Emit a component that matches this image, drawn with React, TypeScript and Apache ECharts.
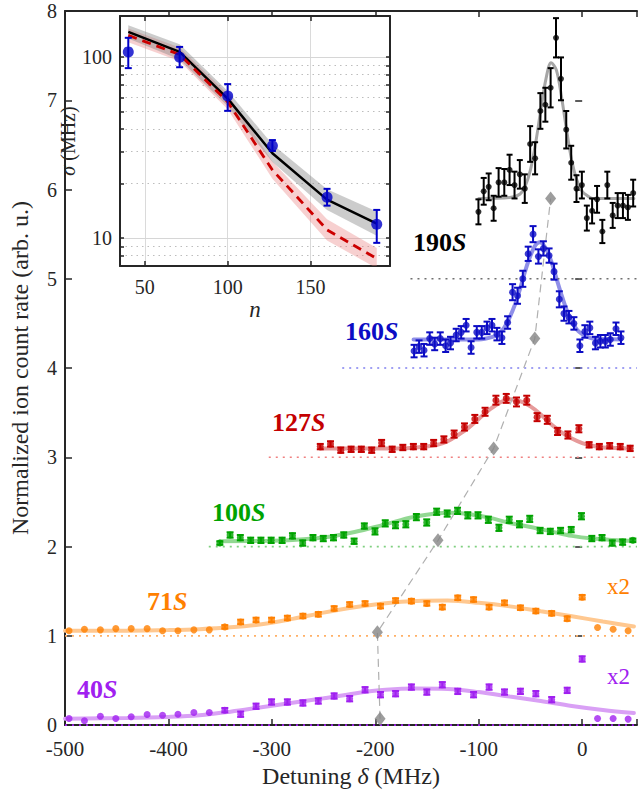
import React, { useEffect, useRef } from "react";
import * as echarts from "echarts";

const FONT = '"Liberation Serif", "Times New Roman", serif';

// ---------------- main panel data (detuning in MHz, normalized rate) ----------------
const x190 = [-100.3,-95.2,-90.4,-85.6,-80.8,-75.3,-70.2,-65.4,-60.3,-55.5,-50.3,-45.5,-40.4,-35.6,-30.5,-25.3,-20.5,-15.4,-10.6,-5.5,-0.3,4.5,9.6,14.4,19.5,24.3,29.5,34.3,39.4,44.2,49.3];
const y190 = [5.75,5.98,6.03,5.79,6.08,6.08,6.22,6.05,6.17,6.01,6.51,6.35,6.88,6.95,7.14,7.70,7.24,6.67,6.30,6.01,6.05,5.68,5.76,5.89,5.53,6.05,5.71,5.82,5.82,5.80,5.96];
const e190 = [0.14,0.15,0.15,0.14,0.16,0.15,0.17,0.15,0.16,0.16,0.2,0.18,0.2,0.19,0.22,0.22,0.24,0.21,0.19,0.15,0.15,0.14,0.14,0.15,0.13,0.15,0.14,0.14,0.14,0.14,0.15];

const x160 = [-162.5,-157.7,-152.9,-147.4,-142.6,-137.2,-132,-127.3,-121.8,-117,-112.2,-107.4,-101.9,-97.1,-92,-87.2,-82.4,-77.6,-72.1,-67.3,-62.5,-57.4,-52.2,-47.5,-42.3,-37.5,-32,-27.2,-22.1,-17.6,-12.8,-8,-2.2,2.6,7.4,12.8,17.6,22.4,27.2,32.7,37.5];
const y160 = [4.19,4.24,4.20,4.33,4.27,4.33,4.25,4.28,4.37,4.40,4.48,4.23,4.40,4.40,4.45,4.48,4.38,4.34,4.51,4.85,4.81,5.00,5.28,5.50,5.25,5.34,5.26,5.08,4.77,4.61,4.57,4.50,4.25,4.41,4.45,4.28,4.30,4.30,4.32,4.44,4.34];
const e160 = [0.07,0.07,0.07,0.07,0.07,0.07,0.07,0.07,0.07,0.07,0.07,0.07,0.07,0.07,0.07,0.07,0.07,0.07,0.07,0.09,0.09,0.09,0.08,0.09,0.08,0.08,0.08,0.09,0.09,0.08,0.07,0.07,0.07,0.07,0.07,0.07,0.07,0.07,0.07,0.07,0.07];

const x127 = [-253.2,-243.3,-233.4,-223.4,-213.5,-203.5,-193.9,-183.7,-173.4,-163.2,-153.2,-143.6,-133.7,-123.8,-113.8,-103.8,-93.9,-83.4,-73.4,-63.5,-53.6,-43.6,-33.7,-23.8,-13.8,-3.2,6.7,16.6,26.6,36.8,46.4];
const y127 = [3.12,3.15,3.08,3.09,3.09,3.08,3.16,3.09,3.11,3.12,3.12,3.16,3.20,3.26,3.34,3.43,3.51,3.64,3.66,3.62,3.64,3.45,3.42,3.29,3.25,3.32,3.14,3.12,3.13,3.12,3.10];
const e127 = [0.03,0.03,0.03,0.03,0.03,0.03,0.035,0.03,0.03,0.03,0.03,0.035,0.035,0.04,0.04,0.045,0.045,0.05,0.05,0.05,0.05,0.045,0.045,0.04,0.04,0.04,0.03,0.03,0.03,0.03,0.03];

const x100 = [-350.3,-340.4,-330.5,-320.5,-310.6,-300.7,-290.1,-280.1,-270.2,-260.3,-250.3,-240.4,-230.5,-220.5,-210.6,-200.3,-190.4,-180.5,-170.5,-160.3,-150.3,-140.7,-130.5,-120.5,-110.6,-100.7,-90.7,-80.5,-70.5,-60.6,-50.7,-40.7,-30.8,-20.9,-10.6,-0.7,9.3,19.2,29.1,39.1,49.0];
const y100 = [2.04,2.13,2.10,2.07,2.07,2.07,2.07,2.12,2.04,2.10,2.09,2.10,2.13,2.06,2.23,2.17,2.26,2.24,2.25,2.33,2.27,2.39,2.37,2.40,2.35,2.35,2.30,2.21,2.30,2.25,2.31,2.18,2.17,2.18,2.19,2.34,2.09,2.10,2.04,2.05,2.07];
const e100 = [0.02,0.03,0.03,0.03,0.03,0.03,0.03,0.03,0.03,0.03,0.03,0.03,0.03,0.03,0.03,0.035,0.035,0.035,0.035,0.035,0.035,0.035,0.035,0.035,0.035,0.035,0.035,0.035,0.035,0.035,0.035,0.03,0.03,0.03,0.03,0.035,0.03,0.03,0.03,0.03,0.02];

const x71 = [-496.1,-481.2,-465.8,-450.9,-436,-420.6,-405.7,-390.8,-375.4,-360.5,-345.5,-330.2,-315.3,-300.3,-285,-270,-255.1,-239.8,-224.8,-209.9,-195,-180.4,-165.1,-150.2,-135.2,-120.3,-105,-90,-75.1,-59.7,-44.8,-29.5,-14.5,0,14.9,29.9,44.4];
const y71 = [1.056,1.074,1.067,1.081,1.081,1.081,1.056,1.056,1.067,1.067,1.10,1.156,1.178,1.178,1.20,1.222,1.241,1.307,1.352,1.363,1.333,1.396,1.389,1.363,1.322,1.426,1.407,1.322,1.37,1.315,1.278,1.252,1.193,1.433,1.093,1.074,1.056];
const e71 = [0,0,0,0,0,0,0,0,0,0,0.02,0.025,0.025,0.025,0.025,0.025,0.025,0.025,0.025,0.025,0.025,0.025,0.025,0.025,0.025,0.025,0.025,0.025,0.025,0.025,0.025,0.025,0.025,0.025,0,0,0];

const x40 = [-496.1,-481.2,-465.8,-450.9,-436,-420.6,-405.7,-390.8,-375.4,-360.5,-345.5,-330.2,-315.3,-300.3,-285,-270,-255.1,-239.8,-224.8,-209.9,-195,-180.4,-165.1,-150.2,-135.2,-120.3,-105,-90,-75.1,-59.7,-44.8,-29.5,-14.5,0,14.9,29.9,44.4];
const y40 = [0.074,0.048,0.10,0.074,0.093,0.119,0.111,0.122,0.141,0.141,0.167,0.122,0.211,0.259,0.259,0.248,0.27,0.326,0.296,0.396,0.341,0.352,0.426,0.37,0.452,0.378,0.341,0.426,0.37,0.378,0.352,0.285,0.389,0.741,0.074,0.074,0.067];
const e40 = [0,0,0,0,0,0,0,0,0,0,0.025,0.03,0.03,0.03,0.03,0.03,0.03,0.03,0.03,0.03,0.03,0.03,0.03,0.03,0.03,0.03,0.03,0.03,0.03,0.03,0.03,0.03,0.03,0.03,0,0,0];

// fitted curves
const c190x = [-100,-70,-60,-55,-50,-45,-40,-35,-30,-25,-20,-15,-10,-5,0,5,10,30,50];
const c190y = [5.90,5.91,5.95,6.04,6.22,6.52,6.89,7.24,7.42,7.34,7.04,6.66,6.32,6.10,5.98,5.93,5.90,5.90,5.90];
const c160x = [-163,-120,-100,-85,-80,-75,-70,-65,-60,-55,-50,-45,-41,-35,-30,-25,-20,-15,-10,-5,0,5,10,38];
const c160y = [4.32,4.32,4.32,4.355,4.39,4.46,4.57,4.71,4.89,5.09,5.26,5.38,5.41,5.34,5.20,5.01,4.82,4.65,4.52,4.43,4.38,4.35,4.33,4.32];
const c127x = [-253,-200,-180,-160,-140,-130,-120,-110,-100,-90,-80,-70,-60,-50,-40,-30,-20,-10,0,10,20,46];
const c127y = [3.10,3.10,3.10,3.11,3.14,3.18,3.25,3.33,3.43,3.53,3.61,3.65,3.63,3.57,3.48,3.37,3.28,3.21,3.16,3.13,3.11,3.10];
const c100x = [-350,-300,-280,-260,-240,-220,-200,-180,-160,-140,-128,-110,-90,-70,-50,-30,-10,10,30,49];
const c100y = [2.06,2.066,2.074,2.091,2.119,2.163,2.219,2.282,2.339,2.374,2.38,2.366,2.324,2.264,2.22,2.17,2.12,2.09,2.075,2.065];
const c71x = [-500,-440,-400,-370,-340,-310,-280,-250,-220,-190,-160,-130,-100,-70,-40,-10,20,50];
const c71y = [1.056,1.058,1.065,1.075,1.095,1.13,1.19,1.26,1.32,1.365,1.39,1.395,1.37,1.33,1.275,1.22,1.16,1.105];
const c40x = [-500,-440,-400,-370,-340,-310,-280,-250,-220,-190,-160,-130,-100,-70,-40,-10,20,50];
const c40y = [0.072,0.08,0.092,0.11,0.15,0.2,0.25,0.3,0.355,0.395,0.41,0.405,0.37,0.32,0.27,0.215,0.17,0.135];

// baselines (offset level, start of dotted line)
const baseLevel = [5, 4, 3, 2, 1, 0];
const baseStart = [-166, -232, -303, -361, -500, -500];

// peak markers (diamonds)
const peakX = [-195.4, -198, -139.4, -85.6, -45.8, -30.5];
const peakY = [0.07, 1.04, 2.07, 3.10, 4.33, 5.90];

const seriesNames = ["190", "160", "127", "100", "71", "40"];
const scaleNotes = ["x2", "x2"];

// ---------------- inset data (sigma vs n) ----------------
const nVals = [40, 71, 100, 127, 160, 190];
const sigMeas = [107, 100, 61, 32.4, 16.8, 11.9];
const sigLo = [87, 88, 50.5, 30.3, 15.1, 9.4];
const sigHi = [128, 114, 71, 34.8, 18.7, 14.3];
const sigModel = [138, 107, 59, 29.4, 16.3, 12.0];
const sigModelHi = [150, 118, 65, 33, 18.6, 14];
const sigModelLo = [127, 97, 53.6, 26.3, 14.3, 10.3];
const sigModel2 = [132, 103.5, 56.6, 23.8, 11.1, 7.7];
const sigModel2Hi = [144, 113, 62.5, 26.5, 12.7, 8.8];
const sigModel2Lo = [121, 95, 51.5, 21.3, 9.7, 6.8];
const insetXTicks = [50, 100, 150];
const insetMajorY = [10, 100];
const insetMinorY = [8, 9, 20, 30, 40, 50, 60, 70, 80, 90];
const insetAllYTicks = [8, 9, 10, 20, 30, 40, 50, 60, 70, 80, 90, 100];

const AX = "#262626";

function zip(xs: number[], ys: number[]) {
  return xs.map((x, i) => [x, ys[i]]);
}

function errSeries(xs: number[], ys: number[], es: number[], color: string, cap: number, lw: number) {
  return {
    type: "custom",
    xAxisIndex: 0,
    yAxisIndex: 0,
    z: 3,
    silent: true,
    data: xs.map((x, i) => [x, ys[i], es[i]]),
    encode: { x: 0, y: 1 },
    renderItem: (_p: any, api: any) => {
      const x = api.value(0), y = api.value(1), e = api.value(2);
      if (!e) return { type: "group", children: [] };
      const p1 = api.coord([x, y + e]);
      const p2 = api.coord([x, y - e]);
      const s = { stroke: color, lineWidth: lw };
      return {
        type: "group",
        children: [
          { type: "line", shape: { x1: p1[0], y1: p1[1], x2: p2[0], y2: p2[1] }, style: s },
          { type: "line", shape: { x1: p1[0] - cap / 2, y1: p1[1], x2: p1[0] + cap / 2, y2: p1[1] }, style: s },
          { type: "line", shape: { x1: p2[0] - cap / 2, y1: p2[1], x2: p2[0] + cap / 2, y2: p2[1] }, style: s },
        ],
      };
    },
  };
}

function pointSeries(xs: number[], ys: number[], color: string, size: number) {
  return {
    type: "scatter", xAxisIndex: 0, yAxisIndex: 0, z: 4, silent: true,
    symbol: "circle", symbolSize: size, itemStyle: { color },
    data: zip(xs, ys),
  };
}

function curveSeries(xs: number[], ys: number[], color: string, width: number) {
  return {
    type: "line", xAxisIndex: 0, yAxisIndex: 0, z: 1, silent: true,
    showSymbol: false, smooth: 0.35, lineStyle: { color, width, cap: "round" },
    data: zip(xs, ys),
  };
}

function baseSeries(start: number, level: number, color: string) {
  return {
    type: "line", xAxisIndex: 0, yAxisIndex: 0, z: 2, silent: true,
    showSymbol: false, lineStyle: { color, width: 1.6, type: [2, 5] },
    data: [[start, level], [53, level]],
  };
}

function bandSeries(ns: number[], lo: number[], hi: number[], fill: string) {
  return {
    type: "custom", xAxisIndex: 2, yAxisIndex: 2, clip: true, silent: true, z: 1,
    data: [[ns[0], lo[0]]],
    encode: { x: 0, y: 1 },
    renderItem: (_p: any, api: any) => {
      const pts: number[][] = [];
      ns.forEach((n, i) => pts.push(api.coord([n, hi[i]])));
      for (let i = ns.length - 1; i >= 0; i--) pts.push(api.coord([ns[i], lo[i]]));
      return { type: "polygon", shape: { points: pts }, style: { fill } };
    },
  };
}

export default function App() {
  const ref = useRef<HTMLDivElement>(null);
  useEffect(() => {
    if (!ref.current) return;
    const chart = echarts.init(ref.current, null, { renderer: "svg" });

    const colors = ["#000000", "#0c0cc4", "#c40000", "#00a300", "#ff8000", "#a020f0"];
    const curveColors = ["#a6a6a6", "#8f8fe8", "#e69a9a", "#92d892", "#ffc890", "#d9a0f5"];
    const baseColors = ["#707070", "#8080f0", "#f08080", "#80d080", "#ffb066", "#a020f0"];
    const xs = [x190, x160, x127, x100, x71, x40];
    const ys = [y190, y160, y127, y100, y71, y40];
    const es = [e190, e160, e127, e100, e71, e40];
    const cx = [c190x, c160x, c127x, c100x, c71x, c40x];
    const cy = [c190y, c160y, c127y, c100y, c71y, c40y];
    const sizes = [6, 7, 7, 7, 7, 7];
    const caps = [6, 7, 7, 7, 7, 7];

    const series: any[] = [];
    for (let i = 0; i < 6; i++) {
      series.push(curveSeries(cx[i], cy[i], curveColors[i], i === 0 ? 3 : 4));
      series.push(baseSeries(baseStart[i], baseLevel[i], baseColors[i]));
    }
    series.push({
      type: "line", xAxisIndex: 0, yAxisIndex: 0, z: 2, silent: true, showSymbol: false,
      lineStyle: { color: "#b0b0b0", width: 1.2, type: [8, 5] },
      data: zip(peakX, peakY),
    });
    for (let i = 0; i < 6; i++) {
      series.push(errSeries(xs[i], ys[i], es[i], colors[i], caps[i], 2));
      series.push(pointSeries(xs[i], ys[i], colors[i], sizes[i]));
    }
    series.push({
      type: "scatter", xAxisIndex: 0, yAxisIndex: 0, z: 5, silent: true,
      symbol: "diamond", symbolSize: [11, 14], itemStyle: { color: "#858585" },
      data: zip(peakX, peakY),
    });

    // inset
    series.push(bandSeries(nVals, sigModel2Lo, sigModel2Hi, "rgba(232,120,120,0.35)"));
    series.push(bandSeries(nVals, sigModelLo, sigModelHi, "rgba(120,120,120,0.38)"));
    series.push({
      type: "line", xAxisIndex: 2, yAxisIndex: 2, z: 3, silent: true, showSymbol: false,
      lineStyle: { color: "#000", width: 2.5 },
      data: zip(nVals, sigModel),
      markLine: {
        silent: true, symbol: "none", label: { show: false }, z: 0,
        data: [
          ...insetMinorY.map((v) => ({ yAxis: v, lineStyle: { color: "#bdbdbd", width: 1, type: [1.5, 4] } })),
          ...insetMajorY.map((v) => ({ yAxis: v, lineStyle: { color: "#d6d6d6", width: 1, type: "solid" } })),
        ],
      },
    });
    series.push({
      type: "line", xAxisIndex: 2, yAxisIndex: 2, z: 4, silent: true, showSymbol: false,
      lineStyle: { color: "#cc0000", width: 2.8, type: [9, 6] },
      data: zip(nVals, sigModel2),
    });
    series.push({
      type: "custom", xAxisIndex: 2, yAxisIndex: 2, z: 5, silent: true,
      data: nVals.map((n, i) => [n, sigMeas[i], sigLo[i], sigHi[i]]),
      encode: { x: 0, y: 1 },
      renderItem: (_p: any, api: any) => {
        const n = api.value(0);
        const p1 = api.coord([n, api.value(3)]);
        const p2 = api.coord([n, api.value(2)]);
        const s = { stroke: "#0000c8", lineWidth: 2 };
        const cap = 7;
        return {
          type: "group",
          children: [
            { type: "line", shape: { x1: p1[0], y1: p1[1], x2: p2[0], y2: p2[1] }, style: s },
            { type: "line", shape: { x1: p1[0] - cap / 2, y1: p1[1], x2: p1[0] + cap / 2, y2: p1[1] }, style: s },
            { type: "line", shape: { x1: p2[0] - cap / 2, y1: p2[1], x2: p2[0] + cap / 2, y2: p2[1] }, style: s },
          ],
        };
      },
    });
    series.push({
      type: "scatter", xAxisIndex: 2, yAxisIndex: 2, z: 6, silent: true,
      symbol: "circle", symbolSize: 11, itemStyle: { color: "#0000c8" },
      data: zip(nVals, sigMeas),
    });

    const axLine = { show: true, onZero: false, lineStyle: { color: AX, width: 2 } };
    const tick = (len: number) => ({ show: true, inside: true, length: len, lineStyle: { color: AX, width: 1.5 } });

    const labelPos = [
      [413, 242], [345, 331], [272, 422], [212, 512], [147, 601], [77, 689],
    ];
    const graphics: any[] = seriesNames.map((nm, i) => ({
      type: "text",
      x: labelPos[i][0],
      y: labelPos[i][1],
      silent: true,
      z: 10,
      style: {
        text: `{b|${nm}}{i|S}`,
        verticalAlign: "middle",
        align: "left",
        rich: {
          b: { fontFamily: FONT, fontSize: 26, fontWeight: "bold", fill: colors[i] },
          i: { fontFamily: FONT, fontSize: 26, fontWeight: "bold", fontStyle: "italic", fill: colors[i] },
        },
      },
    }));
    const notePos = [[607, 586], [607, 676]];
    scaleNotes.forEach((t, i) => {
      graphics.push({
        type: "text", x: notePos[i][0], y: notePos[i][1], silent: true, z: 10,
        style: { text: t, fontFamily: FONT, fontSize: 23, fill: colors[4 + i], verticalAlign: "middle", align: "left" },
      });
    });

    chart.setOption({
      animation: false,
      backgroundColor: "#ffffff",
      textStyle: { fontFamily: FONT },
      grid: [
        { left: 65, top: 11, width: 575, height: 718, containLabel: false },
        { left: 120, top: 16, width: 270, height: 250, show: true, backgroundColor: "#ffffff", borderWidth: 0 },
      ],
      xAxis: [
        {
          gridIndex: 0, type: "value", min: -500, max: 53, interval: 100, position: "bottom",
          axisLine: axLine, axisTick: tick(6),
          axisLabel: { fontFamily: FONT, fontSize: 21, lineHeight: 19, color: AX, margin: 14, formatter: (v: number) => (v % 100 === 0 ? String(v) : "") },
          splitLine: { show: false },
          name: "Detuning {i|δ} (MHz)", nameLocation: "middle", nameGap: 36,
          nameTextStyle: { fontFamily: FONT, fontSize: 24, color: AX, rich: { i: { fontFamily: FONT, fontSize: 24, fontStyle: "italic", color: AX } } },
        },
        {
          gridIndex: 0, type: "value", min: -500, max: 53, interval: 100, position: "top",
          axisLine: axLine, axisTick: tick(6), axisLabel: { show: false }, splitLine: { show: false },
        },
        {
          gridIndex: 1, type: "value", min: 35, max: 198, position: "bottom",
          axisLine: axLine,
          axisTick: { ...tick(5), customValues: insetXTicks },
          axisLabel: { fontFamily: FONT, fontSize: 20, color: AX, margin: 11, customValues: insetXTicks },
          splitLine: { show: true, lineStyle: { color: "#dadada", width: 1 } },
          name: "n", nameLocation: "middle", nameGap: 26,
          nameTextStyle: { fontFamily: FONT, fontSize: 23, fontStyle: "italic", color: AX },
        },
        {
          gridIndex: 1, type: "value", min: 35, max: 198, position: "top",
          axisLine: axLine, axisTick: { ...tick(5), customValues: insetXTicks }, axisLabel: { show: false }, splitLine: { show: false },
        },
      ],
      yAxis: [
        {
          gridIndex: 0, type: "value", min: 0, max: 8, interval: 1, position: "left",
          axisLine: axLine, axisTick: tick(7),
          axisLabel: { fontFamily: FONT, fontSize: 20, lineHeight: 16, color: AX, margin: 8 },
          splitLine: { show: false },
          name: "Normalized ion count rate (arb. u.)", nameLocation: "middle", nameGap: 33,
          nameTextStyle: { fontFamily: FONT, fontSize: 24, color: AX },
        },
        {
          gridIndex: 0, type: "value", min: 0, max: 8, interval: 1, position: "right",
          axisLine: { show: false }, axisTick: tick(7), axisLabel: { show: false }, splitLine: { show: false },
        },
        {
          gridIndex: 1, type: "log", logBase: 10, min: 7, max: 169, position: "left",
          axisLine: axLine,
          axisTick: { ...tick(4), customValues: insetAllYTicks },
          axisLabel: {
            fontFamily: FONT, fontSize: 20, color: AX, margin: 8, customValues: insetMajorY,
            formatter: (v: number) => String(Math.round(v)),
          },
          splitLine: { show: false },
          name: "{i|σ} (MHz)", nameLocation: "middle", nameGap: 32,
          nameTextStyle: { fontFamily: FONT, fontSize: 20, color: AX, rich: { i: { fontFamily: FONT, fontSize: 20, fontStyle: "italic", color: AX } } },
        },
        {
          gridIndex: 1, type: "log", logBase: 10, min: 7, max: 169, position: "right",
          axisLine: axLine, axisTick: { ...tick(4), customValues: insetAllYTicks }, axisLabel: { show: false }, splitLine: { show: false },
        },
      ],
      graphic: graphics,
      series,
    });
    return () => chart.dispose();
  }, []);
  return <div ref={ref} style={{ position: "fixed", left: 0, top: 0, width: 640, height: 793, background: "#fff" }} />;
}
